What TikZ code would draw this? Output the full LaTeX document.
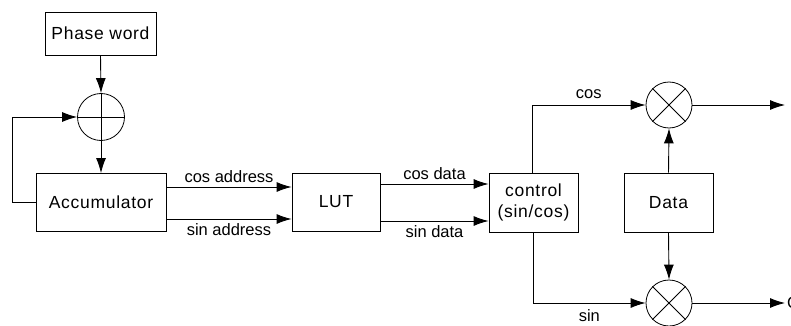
\documentclass[tikz,border=0pt]{standalone}
\usepackage{fontspec}
\setmainfont{Liberation Sans}
\newfontfamily\boxfont[LetterSpace=4]{Liberation Sans}
\usetikzlibrary{arrows.meta}
\begin{document}
\begin{tikzpicture}[x=1pt,y=-1pt,
  every node/.style={font=\fontsize{16.5}{21}\selectfont, inner sep=0pt},
  blk/.style={draw, line width=0.9pt, rectangle, font=\boxfont\fontsize{17.5}{21}\selectfont},
  sumnode/.style={draw, line width=0.8pt, circle, minimum size=47pt},
  arr/.style={line width=0.9pt, -{Latex[length=15pt,width=10pt]}}]
\useasboundingbox (0,0) rectangle (791,326);
% boxes
\node[blk, minimum width=111pt, minimum height=43pt] (pw) at (100.5,33.5) {Phase word};
\node[sumnode] (add) at (101,117) {};
\draw[line width=0.8pt] (add.north) -- (add.south) (add.west) -- (add.east);
\node[blk, minimum width=130pt, minimum height=58pt] (acc) at (101,202.5) {Accumulator};
\node[blk, minimum width=88pt, minimum height=58pt] (lut) at (336,202) {LUT};
\node[blk, minimum width=89pt, minimum height=59pt, align=center] (ctl) at (533.5,202.5) {control\\(sin/cos)};
\node[blk, minimum width=89pt, minimum height=59pt] (dat) at (668.5,202.5) {Data};
\node[sumnode, minimum size=46pt] (m1) at (669,105) {};
\draw[line width=0.8pt] (m1.north west) -- (m1.south east) (m1.north east) -- (m1.south west);
\node[sumnode, minimum size=46pt] (m2) at (669,303) {};
\draw[line width=0.8pt] (m2.north west) -- (m2.south east) (m2.north east) -- (m2.south west);
% connectors
\draw[arr] (pw.south) -- (add.north);
\draw[arr] (add.south) -- (acc.north);
\draw[arr] (acc.west) -- ++(-23,0) |- (add.west);
\draw[arr] (acc.east |- 0,187) -- node[above=4pt] {cos address} (lut.west |- 0,187);
\draw[arr] (acc.east |- 0,219) -- node[below=4pt] {sin address} (lut.west |- 0,219);
\draw[arr] (lut.east |- 0,184) -- node[above=4pt] {cos data} (ctl.west |- 0,184);
\draw[arr] (lut.east |- 0,221) -- node[below=4pt] {sin data} (ctl.west |- 0,221);
\coordinate (c1) at (532,105);
\coordinate (c2) at (533,303);
\draw[arr] (ctl.north -| c1) -- (c1) -- node[above=6pt] {cos} (m1.west);
\draw[arr] (ctl.south -| c2) -- (c2) -- node[below=6pt] {sin} (m2.west);
\draw[arr] (dat.north) -- (m1.south);
\draw[arr] (dat.south) -- (m2.north);
\coordinate (o1) at (785,105);
\coordinate (o2) at (785,303);
\draw[arr] (m1.east) -- (o1);
\draw[arr] (m2.east) -- (o2);
\node[anchor=west] (ol) at (787,303) {C};
\end{tikzpicture}
\end{document}
